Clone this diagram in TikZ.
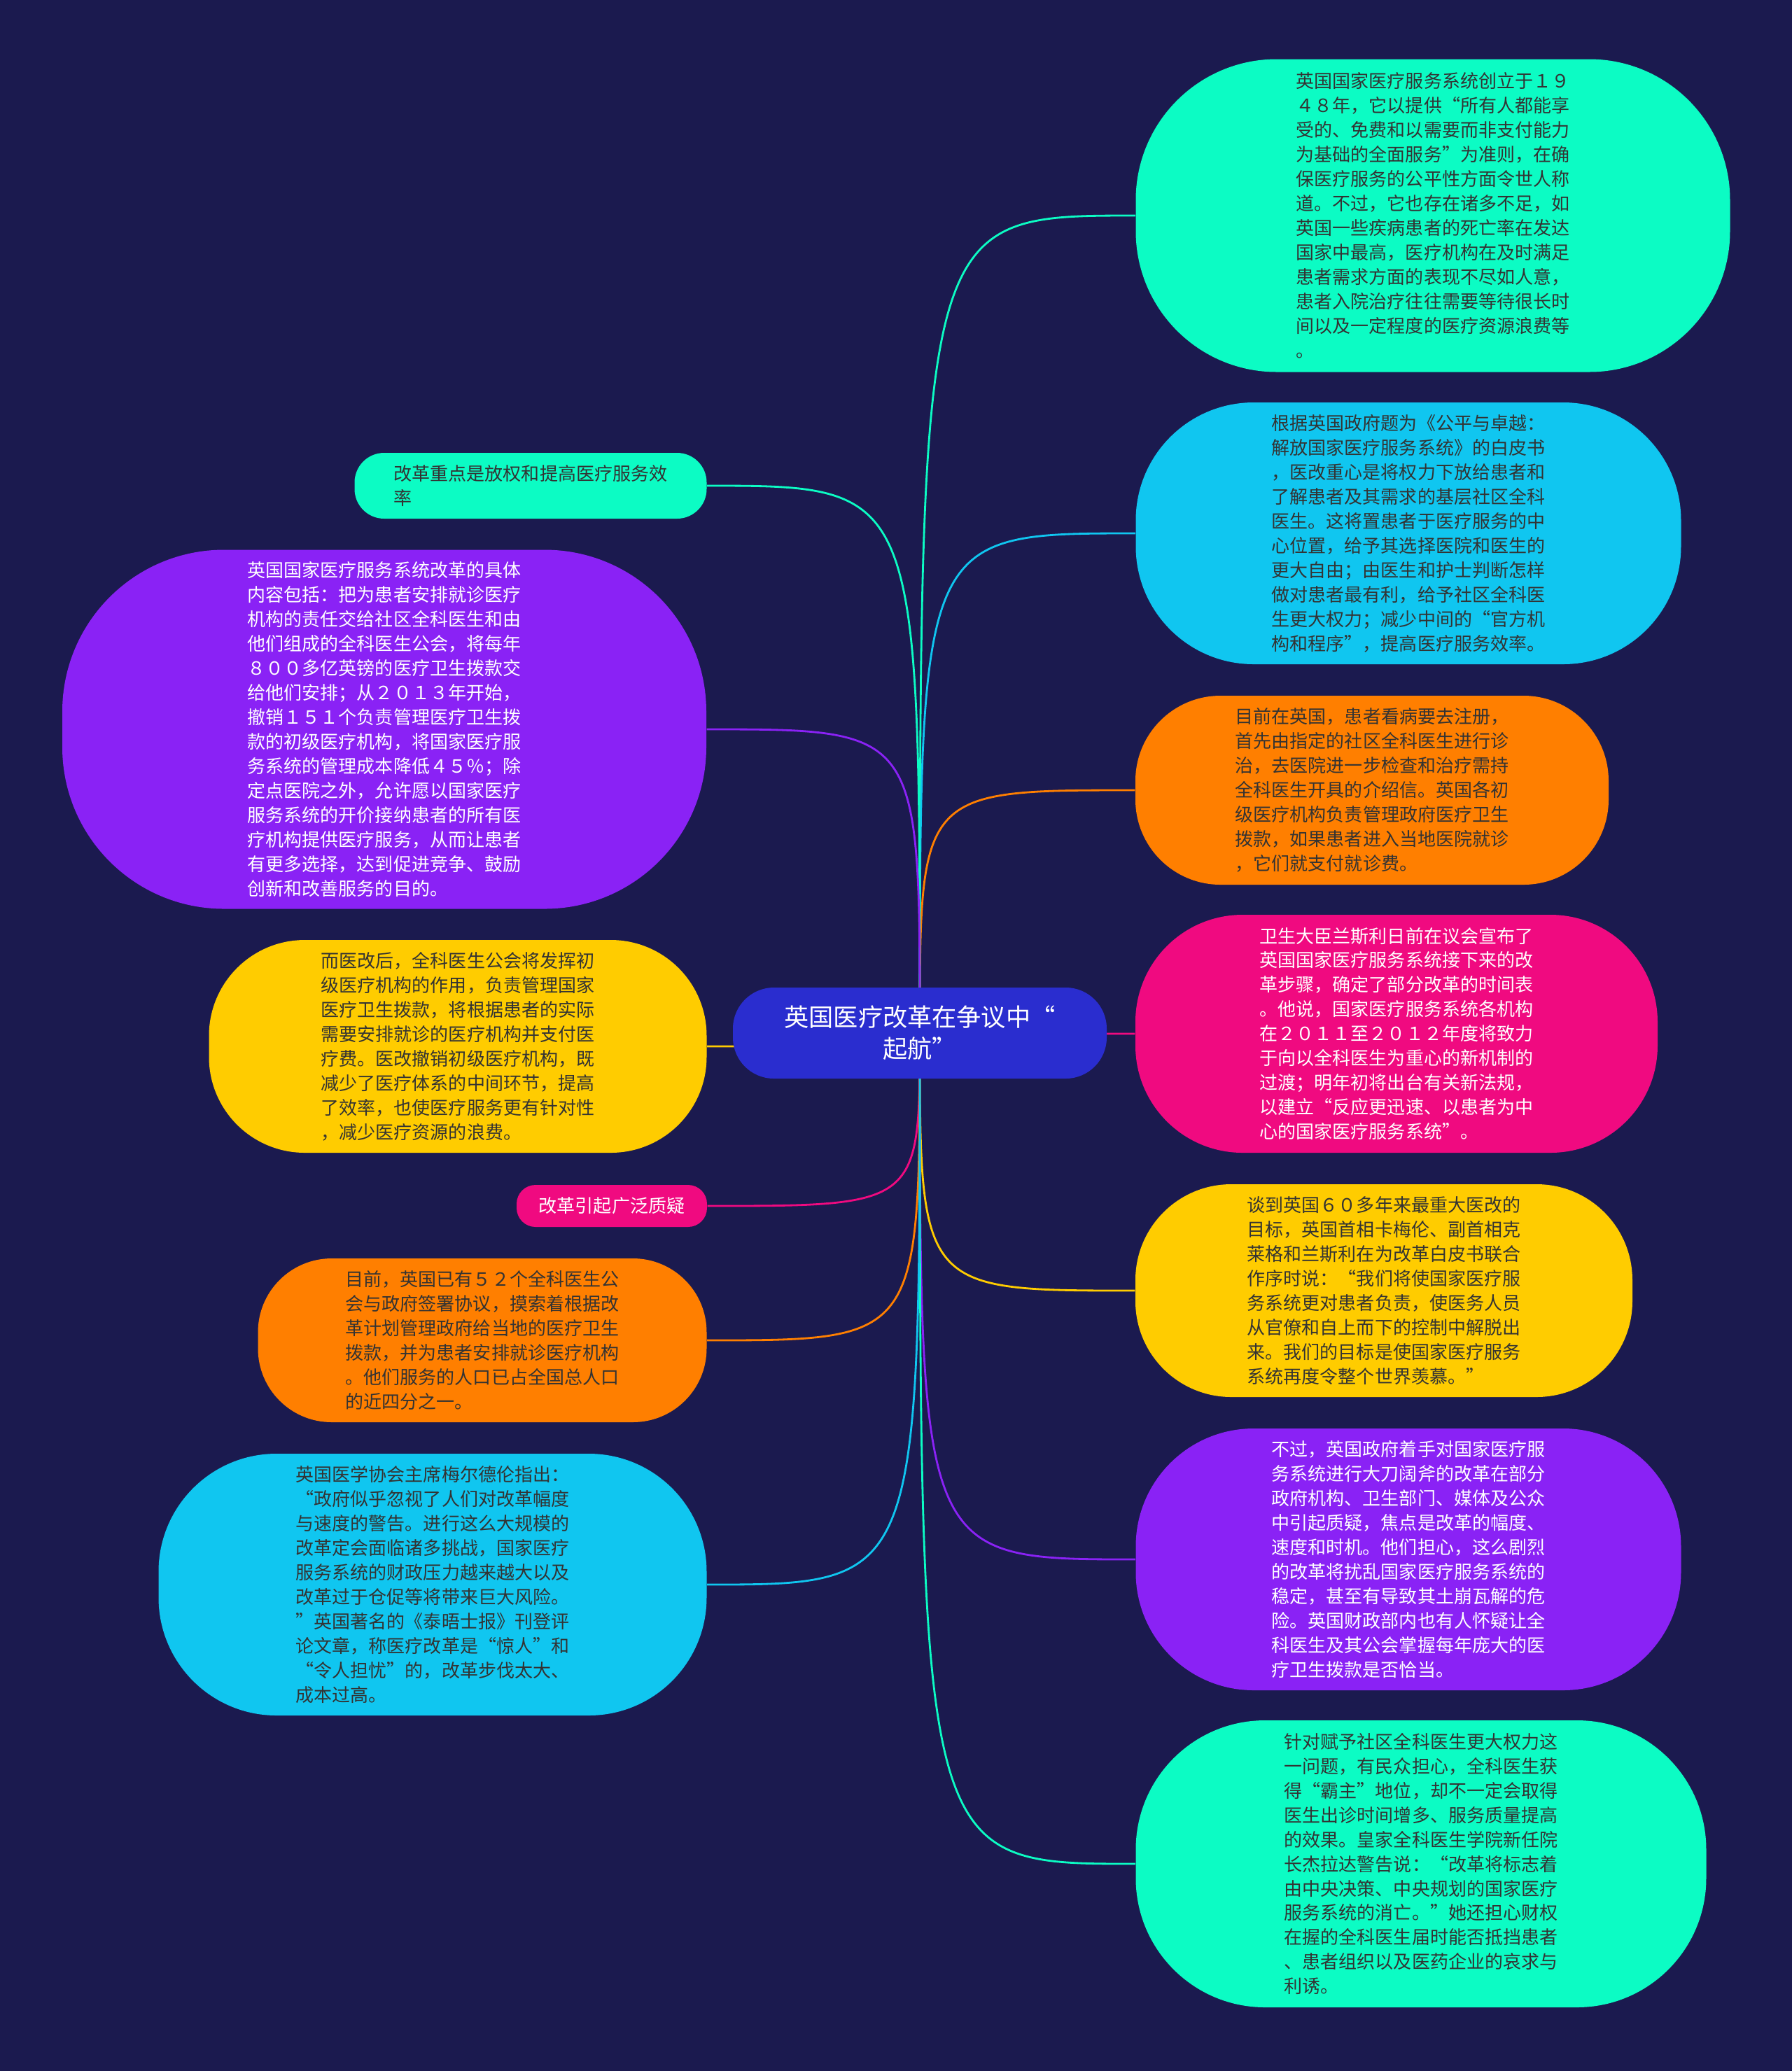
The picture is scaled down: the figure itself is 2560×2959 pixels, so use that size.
\documentclass[tikz,border=0pt]{standalone}
\usepackage{fontspec}
\setmainfont{Noto Sans CJK SC}
\newfontfamily\cjk{Noto Sans CJK SC}
\usepackage{xcolor}
\usetikzlibrary{backgrounds}

\definecolor{bgnavy}{HTML}{1B1A4F}
\definecolor{mint}{HTML}{0CFCC4}
\definecolor{sky}{HTML}{10C6F0}
\definecolor{tangerine}{HTML}{FF7F00}
\definecolor{rose}{HTML}{F00A80}
\definecolor{amber}{HTML}{FFCC00}
\definecolor{violet}{HTML}{8A22F5}
\definecolor{royal}{HTML}{2A2DCF}

\begin{document}
\begin{tikzpicture}[x=0.01cm, y=-0.01cm,
    bubble/.style n args={3}{fill=#1, minimum width=#2*0.01cm, minimum height=#3*0.01cm,
        rounded corners=#3*0.0045cm, inner sep=0pt, align=left, text=black!80,
        font=\cjk\fontsize{7.4pt}{9.95pt}\selectfont},
    light/.style={text=white},
    link/.style={line width=0.8pt}]
    \useasboundingbox (0,0) rectangle (2560,2959);

    % Centre topic
    \node[bubble={royal}{534}{130}, light, align=center,
        font=\cjk\fontsize{10pt}{12.8pt}\selectfont] (hub) at (1314,1476)
        {英国医疗改革在争议中“\\起航”};

    % Right branches
    \node[bubble={mint}{849}{447}] (r1) at (2047,308) {%
        英国国家医疗服务系统创立于１９\\
        ４８年，它以提供“所有人都能享\\
        受的、免费和以需要而非支付能力\\
        为基础的全面服务”为准则，在确\\
        保医疗服务的公平性方面令世人称\\
        道。不过，它也存在诸多不足，如\\
        英国一些疾病患者的死亡率在发达\\
        国家中最高，医疗机构在及时满足\\
        患者需求方面的表现不尽如人意，\\
        患者入院治疗往往需要等待很长时\\
        间以及一定程度的医疗资源浪费等\\
        。};
    \node[bubble={sky}{779}{374}] (r2) at (2012,762) {%
        根据英国政府题为《公平与卓越：\\
        解放国家医疗服务系统》的白皮书\\
        ，医改重心是将权力下放给患者和\\
        了解患者及其需求的基层社区全科\\
        医生。这将置患者于医疗服务的中\\
        心位置，给予其选择医院和医生的\\
        更大自由；由医生和护士判断怎样\\
        做对患者最有利，给予社区全科医\\
        生更大权力；减少中间的“官方机\\
        构和程序”，提高医疗服务效率。};
    \node[bubble={tangerine}{676}{270}] (r3) at (1960,1129) {%
        目前在英国，患者看病要去注册，\\
        首先由指定的社区全科医生进行诊\\
        治，去医院进一步检查和治疗需持\\
        全科医生开具的介绍信。英国各初\\
        级医疗机构负责管理政府医疗卫生\\
        拨款，如果患者进入当地医院就诊\\
        ，它们就支付就诊费。};
    \node[bubble={rose}{746}{340}, light] (r4) at (1995,1477) {%
        卫生大臣兰斯利日前在议会宣布了\\
        英国国家医疗服务系统接下来的改\\
        革步骤，确定了部分改革的时间表\\
        。他说，国家医疗服务系统各机构\\
        在２０１１至２０１２年度将致力\\
        于向以全科医生为重心的新机制的\\
        过渡；明年初将出台有关新法规，\\
        以建立“反应更迅速、以患者为中\\
        心的国家医疗服务系统”。};
    \node[bubble={amber}{710}{304}] (r5) at (1977,1844) {%
        谈到英国６０多年来最重大医改的\\
        目标，英国首相卡梅伦、副首相克\\
        莱格和兰斯利在为改革白皮书联合\\
        作序时说：“我们将使国家医疗服\\
        务系统更对患者负责，使医务人员\\
        从官僚和自上而下的控制中解脱出\\
        来。我们的目标是使国家医疗服务\\
        系统再度令整个世界羡慕。”};
    \node[bubble={violet}{779}{374}, light] (r6) at (2012,2228) {%
        不过，英国政府着手对国家医疗服\\
        务系统进行大刀阔斧的改革在部分\\
        政府机构、卫生部门、媒体及公众\\
        中引起质疑，焦点是改革的幅度、\\
        速度和时机。他们担心，这么剧烈\\
        的改革将扰乱国家医疗服务系统的\\
        稳定，甚至有导致其土崩瓦解的危\\
        险。英国财政部内也有人怀疑让全\\
        科医生及其公会掌握每年庞大的医\\
        疗卫生拨款是否恰当。};
    \node[bubble={mint}{815}{410}] (r7) at (2030,2663) {%
        针对赋予社区全科医生更大权力这\\
        一问题，有民众担心，全科医生获\\
        得“霸主”地位，却不一定会取得\\
        医生出诊时间增多、服务质量提高\\
        的效果。皇家全科医生学院新任院\\
        长杰拉达警告说：“改革将标志着\\
        由中央决策、中央规划的国家医疗\\
        服务系统的消亡。”她还担心财权\\
        在握的全科医生届时能否抵挡患者\\
        、患者组织以及医药企业的哀求与\\
        利诱。};

    % Left branches
    \node[bubble={mint}{503}{94}] (l1) at (758,694) {%
        改革重点是放权和提高医疗服务效\\
        率};
    \node[bubble={violet}{920}{513}, light] (l2) at (549,1042) {%
        英国国家医疗服务系统改革的具体\\
        内容包括：把为患者安排就诊医疗\\
        机构的责任交给社区全科医生和由\\
        他们组成的全科医生公会，将每年\\
        ８００多亿英镑的医疗卫生拨款交\\
        给他们安排；从２０１３年开始，\\
        撤销１５１个负责管理医疗卫生拨\\
        款的初级医疗机构，将国家医疗服\\
        务系统的管理成本降低４５％；除\\
        定点医院之外，允许愿以国家医疗\\
        服务系统的开价接纳患者的所有医\\
        疗机构提供医疗服务，从而让患者\\
        有更多选择，达到促进竞争、鼓励\\
        创新和改善服务的目的。};
    \node[bubble={amber}{711}{304}] (l3) at (654,1495) {%
        而医改后，全科医生公会将发挥初\\
        级医疗机构的作用，负责管理国家\\
        医疗卫生拨款，将根据患者的实际\\
        需要安排就诊的医疗机构并支付医\\
        疗费。医改撤销初级医疗机构，既\\
        减少了医疗体系的中间环节，提高\\
        了效率，也使医疗服务更有针对性\\
        ，减少医疗资源的浪费。};
    \node[bubble={rose}{272}{60}, light] (l4) at (874,1723) {改革引起广泛质疑};
    \node[bubble={tangerine}{641}{234}] (l5) at (689,1915) {%
        目前，英国已有５２个全科医生公\\
        会与政府签署协议，摸索着根据改\\
        革计划管理政府给当地的医疗卫生\\
        拨款，并为患者安排就诊医疗机构\\
        。他们服务的人口已占全国总人口\\
        的近四分之一。};
    \node[bubble={sky}{783}{374}] (l6) at (618,2264) {%
        英国医学协会主席梅尔德伦指出：\\
        “政府似乎忽视了人们对改革幅度\\
        与速度的警告。进行这么大规模的\\
        改革定会面临诸多挑战，国家医疗\\
        服务系统的财政压力越来越大以及\\
        改革过于仓促等将带来巨大风险。\\
        ”英国著名的《泰晤士报》刊登评\\
        论文章，称医疗改革是“惊人”和\\
        “令人担忧”的，改革步伐太大、\\
        成本过高。};

    % Background and connectors
    \begin{pgfonlayer}{background}
        \fill[bgnavy] (0,0) rectangle (2560,2959);
        \draw[link, mint] (hub.center) .. controls (hub.center |- r1.west) .. (r1.west);
        \draw[link, sky] (hub.center) .. controls (hub.center |- r2.west) .. (r2.west);
        \draw[link, tangerine] (hub.center) .. controls (hub.center |- r3.west) .. (r3.west);
        \draw[link, rose] (hub.center) .. controls (hub.center |- r4.west) .. (r4.west);
        \draw[link, amber] (hub.center) .. controls (hub.center |- r5.west) .. (r5.west);
        \draw[link, violet] (hub.center) .. controls (hub.center |- r6.west) .. (r6.west);
        \draw[link, mint] (hub.center) .. controls (hub.center |- r7.west) .. (r7.west);
        \draw[link, mint] (hub.center) .. controls (hub.center |- l1.east) .. (l1.east);
        \draw[link, violet] (hub.center) .. controls (hub.center |- l2.east) .. (l2.east);
        \draw[link, amber] (hub.center) .. controls (hub.center |- l3.east) .. (l3.east);
        \draw[link, rose] (hub.center) .. controls (hub.center |- l4.east) .. (l4.east);
        \draw[link, tangerine] (hub.center) .. controls (hub.center |- l5.east) .. (l5.east);
        \draw[link, sky] (hub.center) .. controls (hub.center |- l6.east) .. (l6.east);
    \end{pgfonlayer}
\end{tikzpicture}
\end{document}
